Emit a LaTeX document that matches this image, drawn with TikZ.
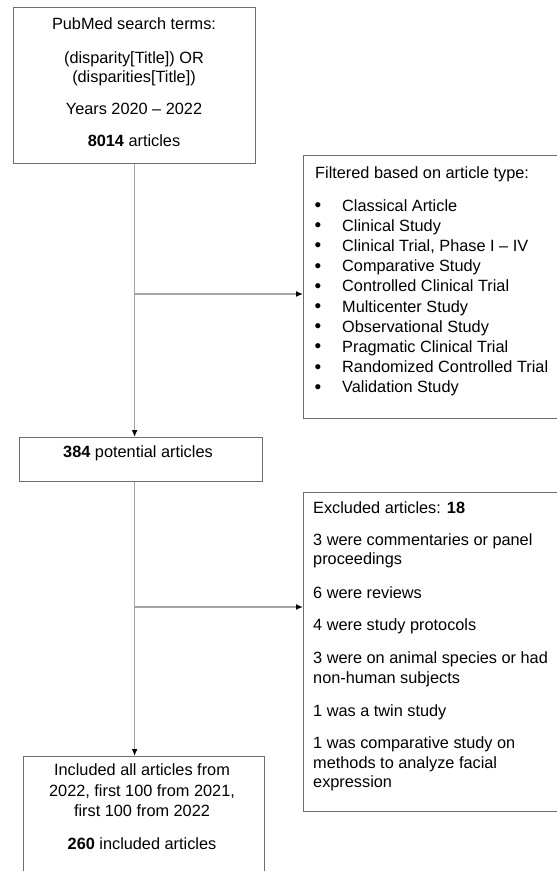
\documentclass[tikz,border=0pt]{standalone}
\usepackage{fontspec}
\setmainfont{Liberation Sans}
\usetikzlibrary{arrows.meta}
\definecolor{boxgray}{RGB}{110,110,110}
\definecolor{linegray}{RGB}{165,165,165}
\begin{document}
\begin{tikzpicture}[x=1pt,y=-1pt,
  box/.style={draw=boxgray, line width=1.2pt, inner sep=0pt, anchor=north west},
  txt/.style={font=\fontsize{16.3}{19.5}\selectfont, inner sep=0pt, anchor=base, text=black},
  ltxt/.style={txt, anchor=base west},
  conn/.style={draw=linegray, line width=1.4pt},
  arr/.style={conn, -{Latex[black,length=7pt,width=6pt]}}]
\useasboundingbox (0,0) rectangle (557,871);
\fill[white] (0,0) rectangle (557,871);

% boxes
\node[box, minimum width=242pt, minimum height=156pt] (b1) at (13,7) {};
\node[box, minimum width=262pt, minimum height=263pt] (b3) at (303,155) {};
\node[box, minimum width=243pt, minimum height=44pt] (b2) at (19,437) {};
\node[box, minimum width=262pt, minimum height=319pt] (b4) at (303,492) {};
\node[box, minimum width=241pt, minimum height=130pt] (b5) at (23,756) {};

% box 1 text
\node[txt] (t11) at (134,29) {PubMed search terms:};
\node[txt] (t12) at (134,63) {(disparity[Title]) OR};
\node[txt] (t13) at (134,82) {(disparities[Title])};
\node[txt] (t14) at (134,114) {Years 2020 – 2022};
\node[txt] (t15) at (134,146) {\textbf{8014} articles};

% filter box text
\node[ltxt] (f0) at (315,178) {Filtered based on article type:};
\foreach \i/\t in {0/Classical Article,1/Clinical Study,2/{Clinical Trial, Phase I – IV},3/Comparative Study,4/Controlled Clinical Trial,5/Multicenter Study,6/Observational Study,7/Pragmatic Clinical Trial,8/Randomized Controlled Trial,9/Validation Study}{
  \node[txt, font=\fontsize{19}{19.5}\selectfont] (fb\i) at (318,211.5+20.2*\i) {•};
  \node[ltxt] (ft\i) at (342,211+20.2*\i) {\t};
}

% box 2 text
\node[txt] (t21) at (138,457) {\textbf{384} potential articles};

% excluded box text
\node[ltxt] (e1) at (313,513) {Excluded articles: \textbf{18}};
\node[ltxt] (e2) at (313,545) {3 were commentaries or panel};
\node[ltxt] (e3) at (313,564) {proceedings};
\node[ltxt] (e4) at (313,598) {6 were reviews};
\node[ltxt] (e5) at (313,630) {4 were study protocols};
\node[ltxt] (e6) at (313,663) {3 were on animal species or had};
\node[ltxt] (e7) at (313,683) {non-human subjects};
\node[ltxt] (e8) at (313,716) {1 was a twin study};
\node[ltxt] (e9) at (313,748) {1 was comparative study on};
\node[ltxt] (e10) at (313,768) {methods to analyze facial};
\node[ltxt] (e11) at (313,787) {expression};

% final box text
\node[txt] (t51) at (142,775) {Included all articles from};
\node[txt] (t52) at (142,796) {2022, first 100 from 2021,};
\node[txt] (t53) at (142,816) {first 100 from 2022};
\node[txt] (t54) at (142,849) {\textbf{260} included articles};

% connectors
\coordinate (j1) at (134,294);
\coordinate (j2) at (134,607);
\draw[arr] (b1.south) -- (b1.south |- b2.north);
\draw[arr] (b1.south |- b2.south) -- (b1.south |- b5.north);
\draw[arr] (j1) -- (j1 -| b3.west);
\draw[arr] (j2) -- (j2 -| b4.west);
\end{tikzpicture}
\end{document}
